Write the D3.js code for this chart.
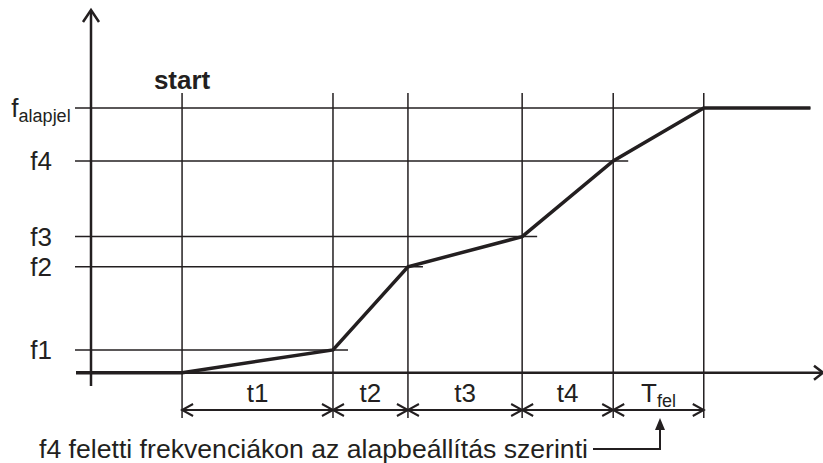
<!DOCTYPE html>
<html>
<head>
<meta charset="utf-8">
<script src="https://cdn.jsdelivr.net/npm/d3@7"></script>
<style>
  body { margin: 0; background: #fff; }
  text { font-family: "Liberation Sans", Arial, sans-serif; fill: #231f20; }
</style>
</head>
<body>
<div id="chart"></div>
<script>
// time segments after start (arbitrary units)
var segLabels = ["t1", "t2", "t3", "t4", "T|fel"];
var segDurations = [3.0, 1.49, 2.27, 1.81, 1.8];
var startTime = 1.81;
var endTime = 14.3;
// frequency levels reached at the end of each segment
var freqLabels = ["f1", "f2", "f3", "f4", "f|alapjel"];
var freqValues = [4.3, 20, 25.7, 40, 50];
var noteText = "f4 feletti frekvenciákon az alapbeállítás szerinti";

var width = 823, height = 463;
var ink = "#231f20";

var svg = d3.select("#chart").append("svg")
    .attr("width", width)
    .attr("height", height);

var x = d3.scaleLinear().domain([0, 14.55]).range([91, 823]);
var y = d3.scaleLinear().domain([0, 68.5]).range([372.7, 10]);

// cumulative times
var times = [startTime];
segDurations.forEach(function (d, i) { times.push(times[i] + d); });

var pts = [[x.invert(76), 0], [startTime, 0]];
times.slice(1).forEach(function (t, i) { pts.push([t, freqValues[i]]); });
pts.push([endTime, freqValues[freqValues.length - 1]]);

var left = 75, vTop = 93, vBottom = 418, dimY = 410;

// horizontal level lines
svg.append("g").selectAll("line")
    .data(freqValues)
    .enter().append("line")
    .attr("x1", left)
    .attr("x2", function (d, i) {
        return i == freqValues.length - 1 ? x(endTime) : x(times[i + 1]) + 15;
    })
    .attr("y1", function (d) { return y(d); })
    .attr("y2", function (d) { return y(d); })
    .attr("stroke", ink).attr("stroke-width", 1.5);

// vertical time lines
svg.append("g").selectAll("line")
    .data(times)
    .enter().append("line")
    .attr("x1", function (d) { return x(d); })
    .attr("x2", function (d) { return x(d); })
    .attr("y1", vTop).attr("y2", vBottom)
    .attr("stroke", ink).attr("stroke-width", 1.5);

// axes
svg.append("line")
    .attr("x1", 76).attr("x2", 822)
    .attr("y1", y(0)).attr("y2", y(0))
    .attr("stroke", ink).attr("stroke-width", 2.5);
svg.append("path")
    .attr("d", "M814," + (y(0) - 7) + "L823," + y(0) + "L814," + (y(0) + 7))
    .attr("fill", "none").attr("stroke", ink).attr("stroke-width", 2.5);

svg.append("line")
    .attr("x1", x(0)).attr("x2", x(0))
    .attr("y1", y.range()[1] + 1).attr("y2", 386)
    .attr("stroke", ink).attr("stroke-width", 2.5);
svg.append("path")
    .attr("d", "M" + (x(0) - 8) + ",22L" + x(0) + ",10L" + (x(0) + 8) + ",22")
    .attr("fill", "none").attr("stroke", ink).attr("stroke-width", 2.5);

// the ramp curve
svg.append("path")
    .datum(pts)
    .attr("d", d3.line().x(function (d) { return x(d[0]); }).y(function (d) { return y(d[1]); }))
    .attr("fill", "none")
    .attr("stroke", ink)
    .attr("stroke-width", 3.5)
    .attr("stroke-linejoin", "miter");

// frequency labels
freqLabels.forEach(function (lab, i) {
    var parts = lab.split("|");
    var t = svg.append("text")
        .attr("x", 41)
        .attr("y", y(freqValues[i]))
        .attr("dy", "0.35em")
        .attr("text-anchor", "middle")
        .style("font-size", "26px");
    t.append("tspan").text(parts[0]);
    if (parts[1]) {
        t.append("tspan").attr("dy", "0.28em").style("font-size", "18px").text(parts[1]);
    }
});

// dimension arrows between the time lines
for (var i = 0; i < segLabels.length; i++) {
    var a = x(times[i]), b = x(times[i + 1]);
    svg.append("line")
        .attr("x1", a).attr("x2", b)
        .attr("y1", dimY).attr("y2", dimY)
        .attr("stroke", ink).attr("stroke-width", 2);
    svg.append("path")
        .attr("d", "M" + (a + 11) + "," + (dimY - 6) + "L" + a + "," + dimY + "L" + (a + 11) + "," + (dimY + 6) +
            "M" + (b - 11) + "," + (dimY - 6) + "L" + b + "," + dimY + "L" + (b - 11) + "," + (dimY + 6))
        .attr("fill", "none").attr("stroke", ink).attr("stroke-width", 2);

    var parts = segLabels[i].split("|");
    var t = svg.append("text")
        .attr("x", (a + b) / 2)
        .attr("y", 402)
        .attr("text-anchor", "middle")
        .style("font-size", "26px");
    t.append("tspan").text(parts[0]);
    if (parts[1]) {
        t.append("tspan").attr("dy", "0.28em").style("font-size", "18px").text(parts[1]);
    }
}

// start label
svg.append("text")
    .attr("x", x(startTime))
    .attr("y", 89)
    .attr("text-anchor", "middle")
    .style("font-size", "26px")
    .style("font-weight", "bold")
    .text("start");

// bottom note with pointer to T_fel
svg.append("text")
    .attr("x", 39)
    .attr("y", 458)
    .attr("textLength", 549)
    .attr("lengthAdjust", "spacingAndGlyphs")
    .style("font-size", "26px")
    .text(noteText);

var tipX = 660;
svg.append("path")
    .attr("d", "M593,449L" + tipX + ",449L" + tipX + ",428")
    .attr("fill", "none").attr("stroke", ink).attr("stroke-width", 2);
svg.append("path")
    .attr("d", "M" + (tipX - 5) + ",430L" + tipX + ",418L" + (tipX + 5) + ",430Z")
    .attr("fill", ink);
</script>
</body>
</html>
